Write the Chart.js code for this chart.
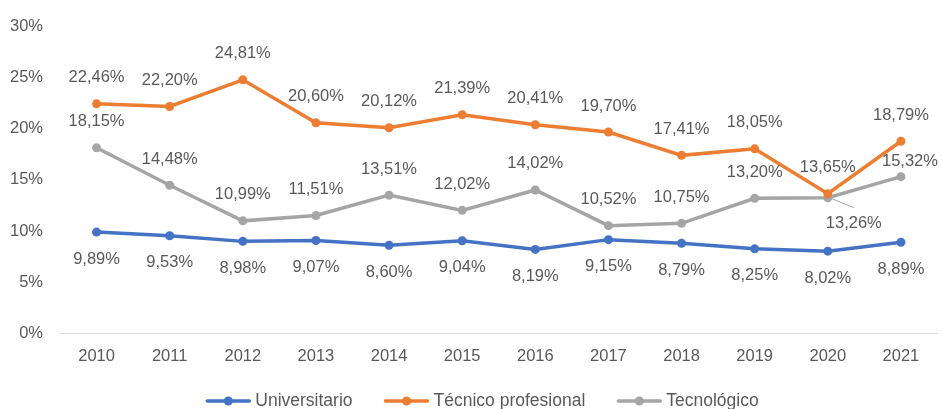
<!DOCTYPE html>
<html>
<head>
<meta charset="utf-8">
<script src="https://cdn.jsdelivr.net/npm/chart.js@4/dist/chart.umd.min.js"></script>
<style>
  html, body { margin: 0; padding: 0; background: #fff; }
  #wrap { width: 942px; height: 409px; position: relative; }
</style>
</head>
<body>
<div id="wrap"><canvas id="c" width="942" height="409"></canvas></div>
<script>
const years = ["2010","2011","2012","2013","2014","2015","2016","2017","2018","2019","2020","2021"];
const universitario = [9.89, 9.53, 8.98, 9.07, 8.60, 9.04, 8.19, 9.15, 8.79, 8.25, 8.02, 8.89];
const tecnicoProfesional = [22.46, 22.20, 24.81, 20.60, 20.12, 21.39, 20.41, 19.70, 17.41, 18.05, 13.65, 18.79];
const tecnologico = [18.15, 14.48, 10.99, 11.51, 13.51, 12.02, 14.02, 10.52, 10.75, 13.20, 13.26, 15.32];
const seriesNames = ["Universitario", "Técnico profesional", "Tecnológico"];
const yTicks = [0, 5, 10, 15, 20, 25, 30];

const TEXT = "#595959";
const FONT = "'Liberation Sans', Arial, sans-serif";
const colors = ["#4472C4", "#ED7D31", "#A5A5A5"];

function fmt(v) { return v.toFixed(2).replace(".", ",") + "%"; }

// label placement: default offset per dataset, with a few manual overrides
const labelPlacement = [
  { dy: 27, over: {} },
  { dy: -26, over: {} },
  { dy: -26, over: { 10: { dx: 26, dy: 26, leader: true }, 11: { dx: 9, dy: -15 } } }
];

const labelsPlugin = {
  id: "valueLabels",
  afterDatasetsDraw(chart) {
    const ctx = chart.ctx;
    ctx.save();
    ctx.font = "16.5px " + FONT;
    ctx.fillStyle = TEXT;
    ctx.textAlign = "center";
    ctx.textBaseline = "middle";
    chart.data.datasets.forEach((ds, di) => {
      const meta = chart.getDatasetMeta(di);
      const pl = labelPlacement[di];
      meta.data.forEach((pt, i) => {
        const o = pl.over[i] || { dx: 0, dy: pl.dy };
        const x = pt.x + (o.dx || 0), y = pt.y + o.dy;
        if (o.leader) {
          ctx.strokeStyle = "#A5A5A5";
          ctx.lineWidth = 1;
          ctx.beginPath();
          ctx.moveTo(pt.x + 4, pt.y + 1);
          ctx.lineTo(x, y - 16);
          ctx.stroke();
        }
        ctx.fillText(fmt(ds.data[i]), x, y);
      });
    });
    ctx.restore();
  }
};

const legendPlugin = {
  id: "customLegend",
  afterDraw(chart) {
    const ctx = chart.ctx;
    ctx.save();
    ctx.font = "17.5px " + FONT;
    const markW = 46, gapText = 4, gapItem = 31;
    const items = chart.data.datasets.map((ds) => ({ text: ds.label, color: ds.borderColor, w: ctx.measureText(ds.label).width }));
    let total = 0;
    items.forEach((it, i) => { total += markW + gapText + it.w + (i < items.length - 1 ? gapItem : 0); });
    let x = 482 - total / 2;
    const y = 401;
    items.forEach((it) => {
      ctx.strokeStyle = it.color;
      ctx.lineWidth = 3.5;
      ctx.lineCap = "round";
      ctx.beginPath();
      ctx.moveTo(x + 2, y);
      ctx.lineTo(x + markW - 2, y);
      ctx.stroke();
      ctx.fillStyle = it.color;
      ctx.beginPath();
      ctx.arc(x + markW / 2, y, 4.5, 0, Math.PI * 2);
      ctx.fill();
      ctx.fillStyle = TEXT;
      ctx.textAlign = "left";
      ctx.textBaseline = "middle";
      ctx.fillText(it.text, x + markW + gapText, y);
      x += markW + gapText + it.w + gapItem;
    });
    ctx.restore();
  }
};

const series = [universitario, tecnicoProfesional, tecnologico];

new Chart(document.getElementById("c"), {
  type: "line",
  data: {
    labels: years,
    datasets: series.map((d, i) => ({
      label: seriesNames[i],
      data: d,
      borderColor: colors[i],
      backgroundColor: colors[i],
      pointBackgroundColor: colors[i],
      pointBorderColor: colors[i],
      pointRadius: 4.5,
      pointBorderWidth: 0,
      borderWidth: 3.5,
      tension: 0,
      fill: false
    }))
  },
  options: {
    responsive: false,
    animation: false,
    events: [],
    layout: { padding: { top: 25, right: 4, bottom: 41, left: 0 } },
    plugins: {
      legend: { display: false },
      tooltip: { enabled: false }
    },
    scales: {
      x: {
        offset: true,
        grid: { display: false, drawTicks: false },
        border: { display: true, color: "#D9D9D9", width: 1 },
        ticks: { color: TEXT, font: { family: FONT, size: 16.5 }, padding: 14, maxRotation: 0 },
        afterFit(s) { s.height = 35; }
      },
      y: {
        min: 0,
        max: 30,
        grid: { display: false, drawTicks: false },
        border: { display: false },
        afterBuildTicks(s) { s.ticks = yTicks.map(v => ({ value: v })); },
        ticks: { color: TEXT, font: { family: FONT, size: 16.5 }, padding: 17, callback: v => v + "%" },
        afterFit(s) { s.width = 60; }
      }
    }
  },
  plugins: [labelsPlugin, legendPlugin]
});
</script>
</body>
</html>
